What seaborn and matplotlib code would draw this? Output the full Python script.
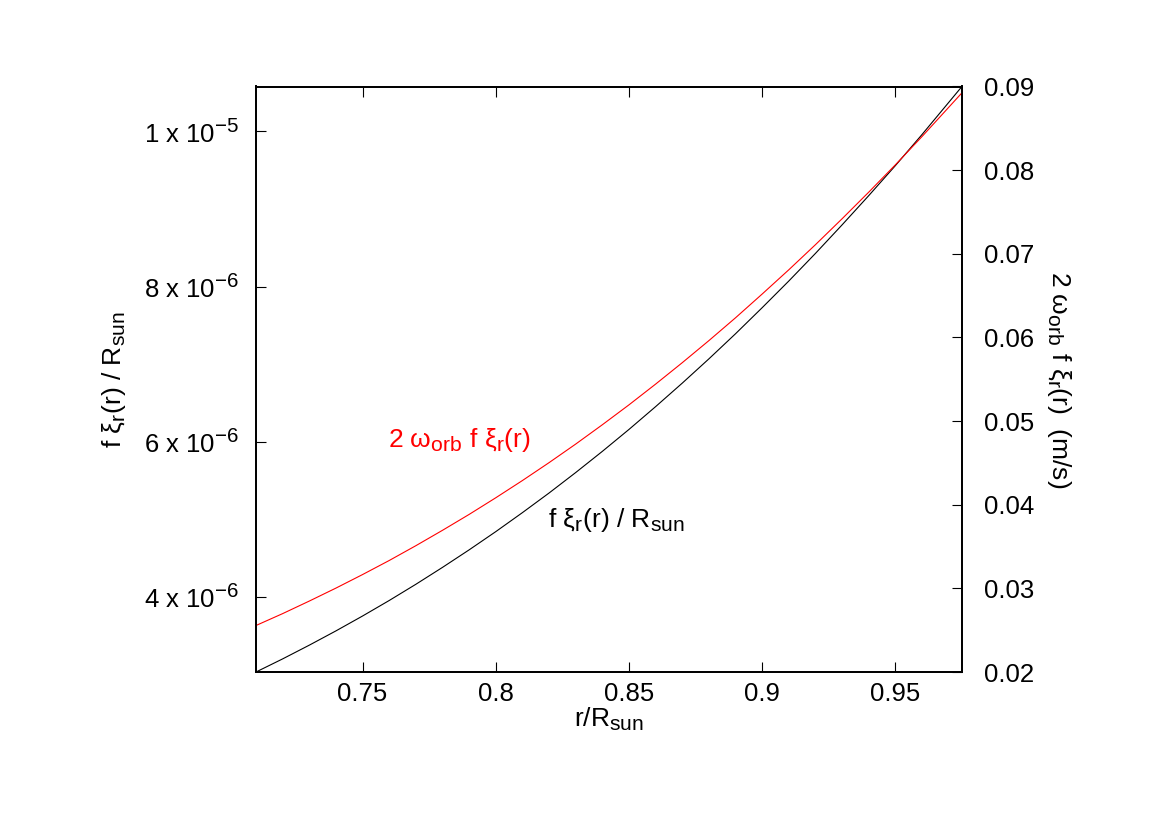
import numpy as np
import pandas as pd
import matplotlib
matplotlib.use("Agg")
import matplotlib.pyplot as plt
import seaborn as sns

# gnuplot-like larger sub/superscripts
try:
    import matplotlib._mathtext as _mt
    _mt.SHRINK_FACTOR = 0.8
except Exception:
    pass

# ---- data ----
r_values = [0.71, 0.72, 0.73, 0.74, 0.75, 0.76, 0.77, 0.78, 0.79, 0.80,
            0.81, 0.82, 0.83, 0.84, 0.85, 0.86, 0.87, 0.88, 0.89, 0.90,
            0.91, 0.92, 0.93, 0.94, 0.95, 0.96, 0.975]
# f xi_r(r) / R_sun  (left axis, units of 1e-6)
fxi_over_rsun_e6 = [3.030, 3.199, 3.376, 3.560, 3.752, 3.952, 4.161, 4.379, 4.605, 4.840,
                    5.085, 5.338, 5.602, 5.875, 6.158, 6.452, 6.755, 7.068, 7.392, 7.728,
                    8.072, 8.428, 8.796, 9.173, 9.560, 9.961, 10.581]
# 2 omega_orb f xi_r(r)  (right axis, m/s)
velocity_ms = [0.02556, 0.02698, 0.02848, 0.03003, 0.03165, 0.03333, 0.03510, 0.03694,
               0.03884, 0.04083, 0.04289, 0.04503, 0.04725, 0.04956, 0.05194, 0.05442,
               0.05698, 0.05962, 0.06235, 0.06519, 0.06809, 0.07109, 0.07419, 0.07737,
               0.08064, 0.08402, 0.08925]

x_ticks = [0.75, 0.80, 0.85, 0.90, 0.95]
x_tick_labels = ["0.75", "0.8", "0.85", "0.9", "0.95"]
left_ticks = [4e-6, 6e-6, 8e-6, 1e-5]
left_tick_labels = [r"4 x 10$^{-6}$", r"6 x 10$^{-6}$", r"8 x 10$^{-6}$", r"1 x 10$^{-5}$"]
right_ticks = [0.02, 0.03, 0.04, 0.05, 0.06, 0.07, 0.08, 0.09]
right_tick_labels = ["0.02", "0.03", "0.04", "0.05", "0.06", "0.07", "0.08", "0.09"]

df = pd.DataFrame({
    "r": r_values,
    "left": np.array(fxi_over_rsun_e6) * 1e-6,
    "right": velocity_ms,
})

sns.set_theme(style="white")
plt.rcParams["font.family"] = ["Liberation Sans", "DejaVu Sans"]
plt.rcParams["mathtext.fontset"] = "custom"
plt.rcParams["mathtext.rm"] = "Liberation Sans"
plt.rcParams["mathtext.it"] = "Liberation Sans"
plt.rcParams["mathtext.default"] = "regular"
plt.rcParams["text.color"] = "black"
plt.rcParams["axes.labelcolor"] = "black"

fig = plt.figure(figsize=(11.75, 8.31), dpi=100)
ax = fig.add_axes([256 / 1175, 1 - 672 / 831, (962 - 256) / 1175, (672 - 86.5) / 831])
ax2 = ax.twinx()

sns.lineplot(data=df, x="r", y="left", ax=ax, color="black", linewidth=0.8)
sns.lineplot(data=df, x="r", y="right", ax=ax2, color="red", linewidth=0.8)

ax.set_xlim(0.71, 0.975)
ax.set_ylim(3.03e-6, 1.058e-5)
ax2.set_ylim(0.02, 0.09)

fs = 18.5
fl = 19
ax.set_xticks(x_ticks)
ax.set_xticklabels(x_tick_labels, fontsize=fs)
ax.set_yticks(left_ticks)
ax.set_yticklabels(left_tick_labels, fontsize=fs)
ax2.set_yticks(right_ticks)
ax2.set_yticklabels(right_tick_labels, fontsize=fs)

ax.tick_params(axis="x", direction="in", length=7, width=0.8, top=True, bottom=True, pad=7, colors="black")
ax.tick_params(axis="y", direction="in", length=7, width=0.8, left=True, right=False, pad=12, colors="black")
ax2.tick_params(axis="y", direction="in", length=7, width=0.8, right=True, left=False, pad=16, colors="black")

for a in (ax, ax2):
    for s in a.spines.values():
        s.set_color("black")
        s.set_linewidth(1.3)

ax.set_xlabel(r"r/R$_{sun}$", fontsize=fl, labelpad=0, color="black")
ax.set_ylabel(r"f ξ$_{r}$(r) / R$_{sun}$", fontsize=fl, labelpad=12, color="black")
ax2.set_ylabel(r"2 ω$_{orb}$ f ξ$_{r}$(r)  (m/s)", fontsize=fl, rotation=-90, labelpad=28, color="black")

ax.text(0.7596, 6.02e-6, r"2 ω$_{orb}$ f ξ$_{r}$(r)", color="red", fontsize=fl,
        ha="left", va="center")
ax.text(0.8196, 4.99e-6, r"f ξ$_{r}$(r) / R$_{sun}$", color="black", fontsize=fl,
        ha="left", va="center")

ax.grid(False)
ax2.grid(False)
fig.savefig("out.png", dpi=100, facecolor="white")
